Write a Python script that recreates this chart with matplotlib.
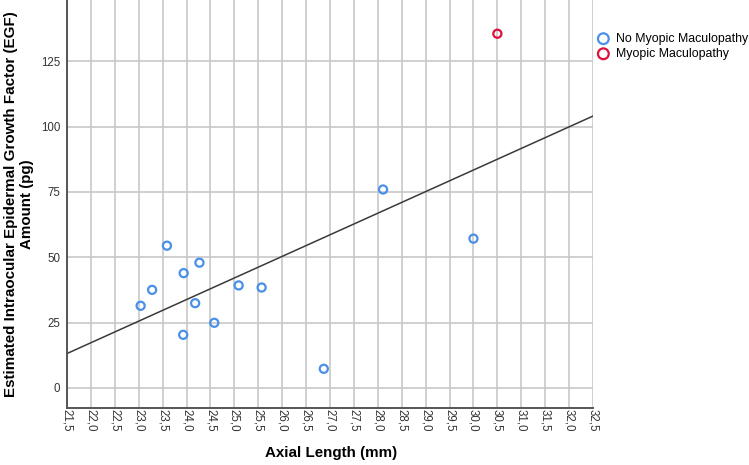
import numpy as np
import matplotlib.pyplot as plt

# Daten
axial_no = [23.59, 24.27, 23.94, 23.28, 23.04, 24.18, 25.09, 25.57, 24.58, 23.93, 26.87, 30.0, 28.11]
egf_no = [54.4, 47.9, 43.9, 37.5, 31.4, 32.4, 39.2, 38.4, 24.9, 20.3, 7.3, 57.1, 75.9]
axial_mm = [30.5]
egf_mm = [135.5]

x_ticks = np.arange(21.5, 32.51, 0.5)
x_tick_labels = [f"{v:.1f}".replace(".", ",") for v in x_ticks]
y_ticks = [0, 25, 50, 75, 100, 125]

plt.rcParams['font.family'] = ['Liberation Sans', 'DejaVu Sans']

fig = plt.figure(figsize=(7.49, 4.65), dpi=100)
ax = fig.add_axes([67 / 749, 1 - 408 / 465, (593 - 67) / 749, 408 / 465])

# Gitter
ax.set_axisbelow(True)
ax.grid(True, color="#c8c8c8", linewidth=1.2)

# Regressionsgerade über alle Punkte
all_x = np.array(axial_no + axial_mm)
all_y = np.array(egf_no + egf_mm)
k, b = np.polyfit(all_x, all_y, 1)
xs = np.array([21.5, 32.5])
ax.plot(xs, k * xs + b, color="#3a3a3a", linewidth=1.1, zorder=2)

ax.scatter(axial_no, egf_no, s=34, facecolors="none", edgecolors="#4a90e8",
           linewidths=1.6, zorder=3)
ax.scatter(axial_mm, egf_mm, s=34, facecolors="none", edgecolors="#e0103c",
           linewidths=1.6, zorder=3)

ax.set_xlim(21.5, 32.5)
ax.set_ylim(-7.7, 148.4)
ax.set_xticks(x_ticks)
ax.set_xticklabels(x_tick_labels, rotation=270, fontsize=8.3, color="#333333")
ax.set_yticks(y_ticks)
ax.set_yticklabels([str(v) for v in y_ticks], fontsize=8.3, color="#333333")
ax.tick_params(length=0)
ax.tick_params(axis="y", pad=5)
ax.tick_params(axis="x", pad=1)

for s in ["top", "right"]:
    ax.spines[s].set_visible(False)
for s in ["left", "bottom"]:
    ax.spines[s].set_color("#555555")
    ax.spines[s].set_linewidth(1.4)

ax.set_xlabel("Axial Length (mm)", fontsize=10.9, fontweight="bold")
ax.xaxis.set_label_coords(0.502, -0.093)
fig.text(19 / 749, 1 - 204 / 465,
         "Estimated Intraocular Epidermal Growth Factor (EGF)\nAmount (pg)",
         rotation=90, ha="center", va="center", ma="center",
         fontsize=10.9, fontweight="bold", linespacing=1.2)

# Legende
h1 = ax.scatter([], [], s=60, facecolors="none", edgecolors="#4a90e8", linewidths=1.6)
h2 = ax.scatter([], [], s=60, facecolors="none", edgecolors="#e0103c", linewidths=1.6)
fig.legend([h1, h2], ["No Myopic Maculopathy", "Myopic Maculopathy"],
           loc="upper left", bbox_to_anchor=(591 / 749, 1 - 28 / 465),
           frameon=False, fontsize=8.9, handletextpad=0.4, labelspacing=0.25,
           borderaxespad=0, handlelength=1.2)

fig.savefig("out.png", dpi=100)
